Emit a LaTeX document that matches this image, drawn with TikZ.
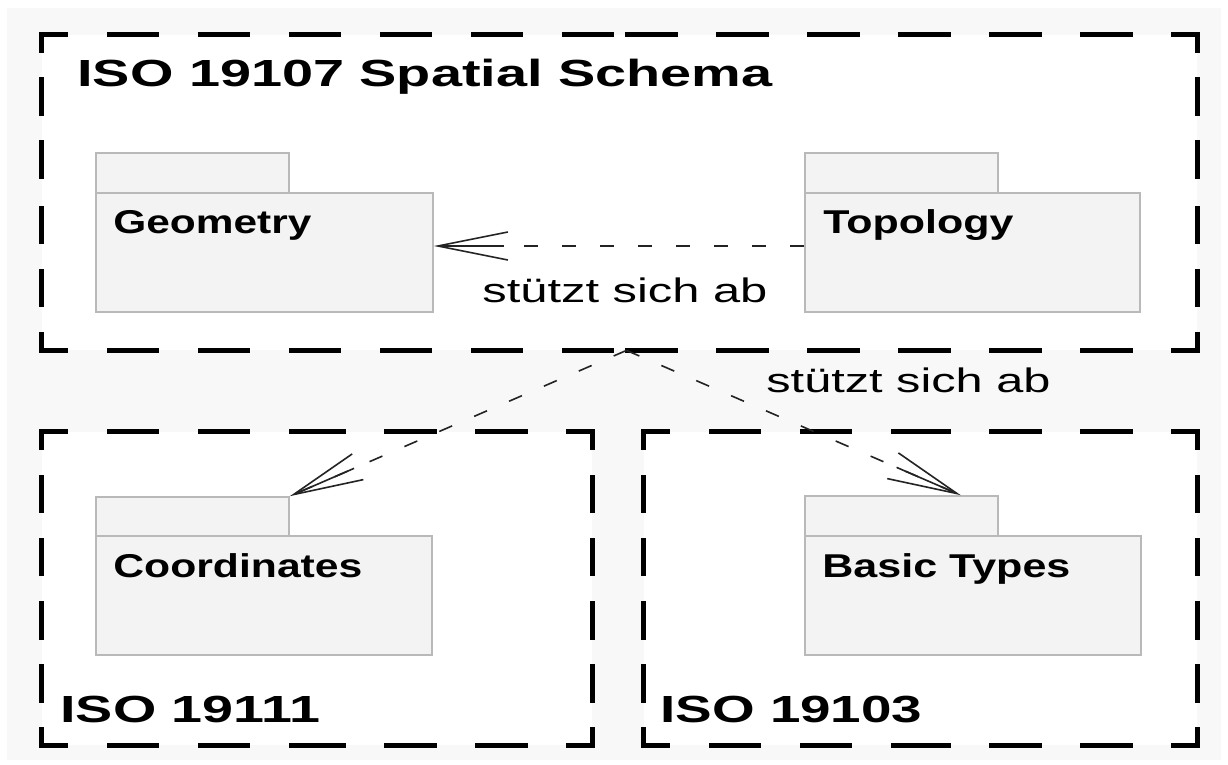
\documentclass[tikz,border=0pt]{standalone}
\usepackage{fontspec}
\usepackage{graphicx}
\setmainfont{Liberation Sans}
\usetikzlibrary{arrows.meta,calc,fit}
\definecolor{bggray}{RGB}{248,248,248}
\definecolor{pkgfill}{RGB}{243,243,243}
\definecolor{pkgline}{RGB}{185,185,185}
\definecolor{conn}{RGB}{35,35,35}
\newcommand\SText[3]{\resizebox{#1}{\height}{\fontsize{#2}{#2}\selectfont #3}}
\newcommand\DashFrame[1]{%
 \draw[hedge] (#1.north west) -- (#1.north);
 \draw[hedge] (#1.north east) -- (#1.north);
 \draw[hedge] (#1.south west) -- (#1.south);
 \draw[hedge] (#1.south east) -- (#1.south);
 \draw[vedge] (#1.north west) -- (#1.west);
 \draw[vedge] (#1.south west) -- (#1.west);
 \draw[vedge] (#1.north east) -- (#1.east);
 \draw[vedge] (#1.south east) -- (#1.east);}
\tikzset{
 frame/.style={fill=white,draw=none,inner sep=0pt},
 hedge/.style={draw=black,line width=2.6pt,line cap=rect,dash pattern=on 23.5pt off 22pt,dash phase=11.75pt},
 vedge/.style={draw=black,line width=2.6pt,line cap=rect,dash pattern=on 16.5pt off 15pt,dash phase=8.75pt},
 pkg/.style={fill=pkgfill,draw=pkgline,line width=0.8pt,inner sep=0pt},
 txt/.style={inner sep=0pt,anchor=base west,text=black},
 dep/.style={draw=conn,line width=0.8pt,dash pattern=on 7pt off 12pt},
 deptip/.style={draw=conn,line width=0.8pt,solid,-{Straight Barb[length=35pt,width=14pt]}}
}
\begin{document}
\begin{tikzpicture}[x=0.5pt,y=-0.5pt]
\fill[white] (0,0) rectangle (1228,765);
\useasboundingbox (0,0) rectangle (1228,765);
\fill[bggray] (7,8) rectangle (1221,760);
% frames
\node[frame,fit={(42,35) (1197,350)}] (sp) {};
\node[frame,fit={(42,432) (592,745)}] (f111) {};
\node[frame,fit={(644,432) (1197,745)}] (f103) {};
\DashFrame{sp}
\DashFrame{f111}
\DashFrame{f103}
% packages
\node[pkg,fit={(96,153) (289,193)}] (geotab) {};
\node[pkg,fit={(96,193) (433,312)}] (geo) {};
\node[pkg,fit={(805,153) (998,193)}] (topotab) {};
\node[pkg,fit={(805,193) (1140,312)}] (topo) {};
\node[pkg,fit={(96,497) (289,536)}] (cotab) {};
\node[pkg,fit={(96,536) (432,655)}] (co) {};
\node[pkg,fit={(805,496) (998,536)}] (bttab) {};
\node[pkg,fit={(805,536) (1141,655)}] (bt) {};
% texts
\node[txt] (t107) at (77,87) {\SText{347.5pt}{18.9pt}{\bfseries ISO 19107 Spatial Schema}};
\node[txt] (tgeo) at (113,234) {\SText{99pt}{16.5pt}{\bfseries Geometry}};
\node[txt] (ttopo) at (823,234) {\SText{95pt}{16.5pt}{\bfseries Topology}};
\node[txt] (tco) at (113,577) {\SText{124.5pt}{16.5pt}{\bfseries Coordinates}};
\node[txt] (tbt) at (822,577) {\SText{124pt}{16.5pt}{\bfseries Basic Types}};
\node[txt] (t111) at (60,722) {\SText{130pt}{18.9pt}{\bfseries ISO 19111}};
\node[txt] (t103) at (660,722) {\SText{131pt}{18.9pt}{\bfseries ISO 19103}};
\node[txt] (l1) at (482,302) {\SText{142.5pt}{17pt}{stützt sich ab}};
\node[txt] (l2) at (766,393) {\SText{142pt}{17pt}{stützt sich ab}};
% connectors
\coordinate (geoin) at ([yshift=3.25pt]geo.east);
\coordinate (topoout) at ([yshift=3.25pt]topo.west);
\coordinate (src) at ([xshift=3.5pt]sp.south);
\coordinate (cotip) at (cotab.north east);
\coordinate (bttip) at ([xshift=-19pt]bttab.north east);
\draw[dep] (topoout) -- (geoin);
\draw[deptip] ($(geoin)!35pt!(topoout)$) -- (geoin);
\draw[dep] (src) -- (cotip);
\draw[deptip] ($(cotip)!35pt!(src)$) -- (cotip);
\draw[dep] (src) -- (bttip);
\draw[deptip] ($(bttip)!35pt!(src)$) -- (bttip);
\end{tikzpicture}
\end{document}
